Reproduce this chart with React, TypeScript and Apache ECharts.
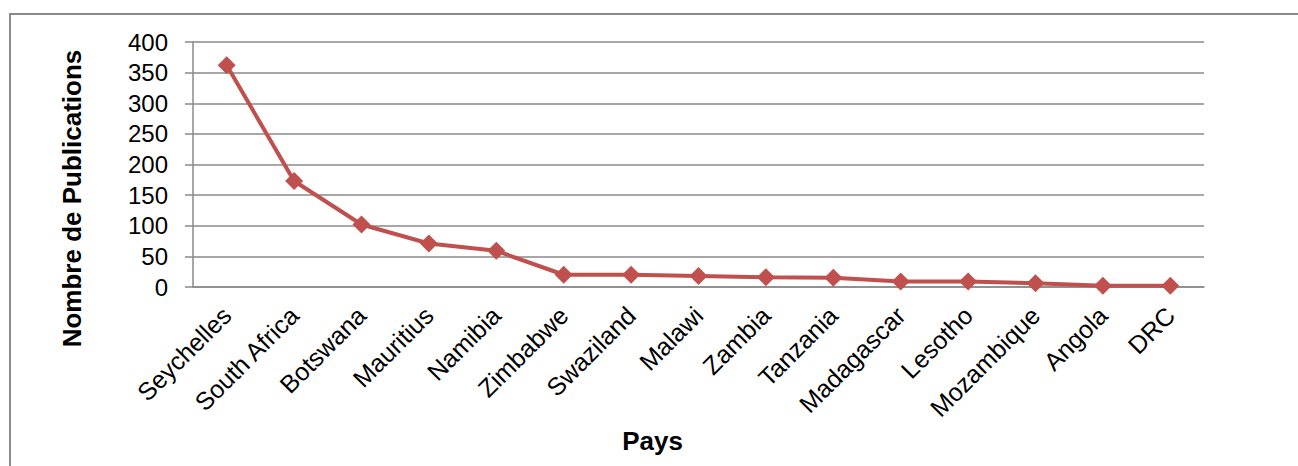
import React, { useEffect, useRef } from "react";
import * as echarts from "echarts";

const categories = [
  "Seychelles", "South Africa", "Botswana", "Mauritius", "Namibia",
  "Zimbabwe", "Swaziland", "Malawi", "Zambia", "Tanzania",
  "Madagascar", "Lesotho", "Mozambique", "Angola", "DRC",
];
const publications = [362, 173, 102, 71, 59, 20, 20, 18, 16, 15, 9, 9, 6, 2, 2];
const yAxisTitle = "Nombre de Publications";
const xAxisTitle = "Pays";

const FONT = "'Liberation Sans', Arial, sans-serif";
const GRID = "#8a8a8a";

export default function App() {
  const ref = useRef<HTMLDivElement>(null);
  useEffect(() => {
    document.body.style.margin = "0";
    if (!ref.current) return;
    const chart = echarts.init(ref.current, null, { renderer: "svg" });
    chart.setOption({
      animation: false,
      backgroundColor: "#ffffff",
      textStyle: { fontFamily: FONT },
      graphic: [
        {
          type: "rect",
          shape: { x: 10, y: 14, width: 1400, height: 600 },
          style: { fill: "none", stroke: GRID, lineWidth: 2 },
          silent: true,
        },
      ],
      grid: { left: 193, right: 94, top: 42, bottom: 179, containLabel: false },
      xAxis: {
        type: "category",
        data: categories,
        boundaryGap: true,
        name: xAxisTitle,
        nameLocation: "middle",
        nameGap: 141,
        nameTextStyle: {
          fontSize: 26, fontWeight: "bold", color: "#000", fontFamily: FONT,
          padding: [0, 92, 0, 0],
        },
        axisLine: { show: true, lineStyle: { color: GRID, width: 1.5 } },
        axisTick: { show: false },
        axisLabel: { rotate: 45, fontSize: 25, color: "#000", margin: 24, fontFamily: FONT, interval: 0 },
        splitLine: { show: false },
      },
      yAxis: {
        type: "value",
        min: 0,
        max: 400,
        interval: 50,
        name: yAxisTitle,
        nameLocation: "middle",
        nameGap: 108,
        nameTextStyle: {
          fontSize: 26, fontWeight: "bold", color: "#000", fontFamily: FONT,
          padding: [0, 68, 0, 0],
        },
        axisLine: { show: true, lineStyle: { color: GRID, width: 1.5 } },
        axisTick: { show: true, length: 8, lineStyle: { color: GRID, width: 1.5 } },
        axisLabel: { fontSize: 24, color: "#000", margin: 25, fontFamily: FONT },
        splitLine: { show: true, lineStyle: { color: GRID, width: 1.5 } },
      },
      series: [
        {
          type: "line",
          data: publications,
          symbol: "diamond",
          symbolSize: 18,
          lineStyle: { color: "#C0504D", width: 4 },
          itemStyle: { color: "#C0504D" },
        },
      ],
    });
    return () => chart.dispose();
  }, []);
  return <div ref={ref} style={{ width: 1298, height: 466 }} />;
}
